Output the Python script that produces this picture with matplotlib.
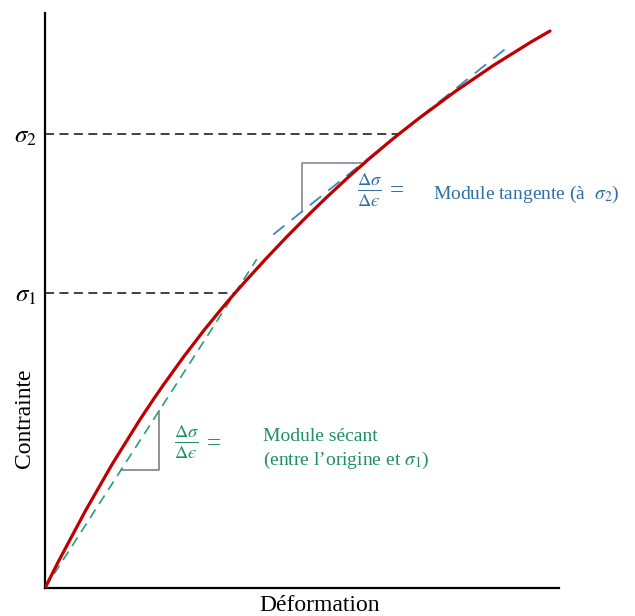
import numpy as np
import matplotlib
matplotlib.use('Agg')
import matplotlib.pyplot as plt
from matplotlib.path import Path
from matplotlib.patches import PathPatch

plt.rcParams['font.family'] = ['Liberation Serif', 'DejaVu Serif']
plt.rcParams['mathtext.fontset'] = 'stix'

# points de la courbe (unites normalisees) et pente locale
deformation = [0.0, 0.2101, 0.3696, 0.6887, 0.9825]
contrainte = [0.0, 0.3270, 0.5130, 0.7896, 0.9687]
pentes = [1.797, 1.315, 1.018, 0.715, 0.504]

eps1, sig1 = 0.3696, 0.5130   # point sigma_1
eps2, sig2 = 0.6887, 0.7896   # point sigma_2
pente_tangente = 0.715        # pente de la tangente en sigma_2

ROUGE = '#c00000'
BLEU = '#3d85c6'
BLEU_TXT = '#2f6ea8'
VERT = '#2a9d78'
VERT_TXT = '#1f8f6a'
GRIS = '#8a8a8a'


def chemin_courbe(xs, ys, ms):
    # segments de Bezier quadratiques : point de controle = intersection des tangentes
    verts = [(xs[0], ys[0])]
    codes = [Path.MOVETO]
    for i in range(len(xs) - 1):
        x0, y0, m0 = xs[i], ys[i], ms[i]
        x1, y1, m1 = xs[i + 1], ys[i + 1], ms[i + 1]
        xc = (y1 - y0 + m0 * x0 - m1 * x1) / (m0 - m1)
        yc = y0 + m0 * (xc - x0)
        verts += [(xc, yc), (x1, y1)]
        codes += [Path.CURVE3, Path.CURVE3]
    return Path(verts, codes)


fig = plt.figure(figsize=(6.35, 6.16), dpi=100)
ax = fig.add_axes([45 / 635, 28 / 616, 514 / 635, 575 / 616])

# lignes horizontales sigma_1 et sigma_2
for e, s in [(eps1, sig1), (eps2, sig2)]:
    ax.plot([0, e], [s, s], color='#333333', lw=1.3, ls=(0, (5, 3)), zorder=2)

# module secant
pente_sec = sig1 / eps1
xs = np.array([0, 0.412])
ax.plot(xs, pente_sec * xs, color=VERT, lw=1.2, ls=(0, (6, 4)), zorder=3)
a, b = 0.148, 0.222
ax.plot([a, b, b], [pente_sec * a, pente_sec * a, pente_sec * b], color=GRIS, lw=1.3, zorder=2)

# module tangent
xt = np.array([0.444, 0.907])
ax.plot(xt, sig2 + pente_tangente * (xt - eps2), color=BLEU, lw=1.3, ls=(0, (8, 5)), zorder=3)
c = 0.500
y_haut = 0.739
d = eps2 + (y_haut - sig2) / pente_tangente
ax.plot([c, c, d], [sig2 + pente_tangente * (c - eps2), y_haut, y_haut], color=GRIS, lw=1.2, zorder=2)

# courbe
ax.add_patch(PathPatch(chemin_courbe(deformation, contrainte, pentes), facecolor='none',
                       edgecolor=ROUGE, lw=2.3, zorder=4, capstyle='round'))

# textes
frac = '$\\frac{\\Delta\\sigma}{\\Delta\u03f5}$'
ax.text(0.632, 0.692, frac, color=BLEU_TXT, fontsize=19, ha='center', va='center')
ax.text(0.685, 0.690, '=', color=BLEU_TXT, fontsize=18, ha='center', va='center')
ax.text(0.755, 0.684, r'Module tangente (à  $\sigma_2$)', color=BLEU_TXT, fontsize=14,
        ha='left', va='center')

ax.text(0.276, 0.253, frac, color=VERT_TXT, fontsize=19, ha='center', va='center')
ax.text(0.328, 0.251, '=', color=VERT_TXT, fontsize=18, ha='center', va='center')
ax.text(0.424, 0.263, 'Module sécant', color=VERT_TXT, fontsize=14, ha='left', va='center')
ax.text(0.424, 0.221, r'(entre l’origine et $\sigma_1$)', color=VERT_TXT, fontsize=14,
        ha='left', va='center')

ax.text(-0.04, 0.296, 'Contrainte', rotation=90, fontsize=17, ha='center', va='center',
        transform=ax.transAxes)
ax.text(0.535, -0.03, 'Déformation', fontsize=17, ha='center', va='center',
        transform=ax.transAxes)

# axes
ax.set_xlim(0, 1)
ax.set_ylim(0, 1)
ax.set_xticks([])
ax.set_yticks([sig1, sig2])
ax.set_yticklabels([r'$\sigma_1$', r'$\sigma_2$'], fontsize=18)
ax.tick_params(axis='y', length=0, pad=6)
for side in ['top', 'right']:
    ax.spines[side].set_visible(False)
for side in ['left', 'bottom']:
    ax.spines[side].set_linewidth(1.6)
    ax.spines[side].set_color('black')

fig.savefig('out.png', dpi=100)
